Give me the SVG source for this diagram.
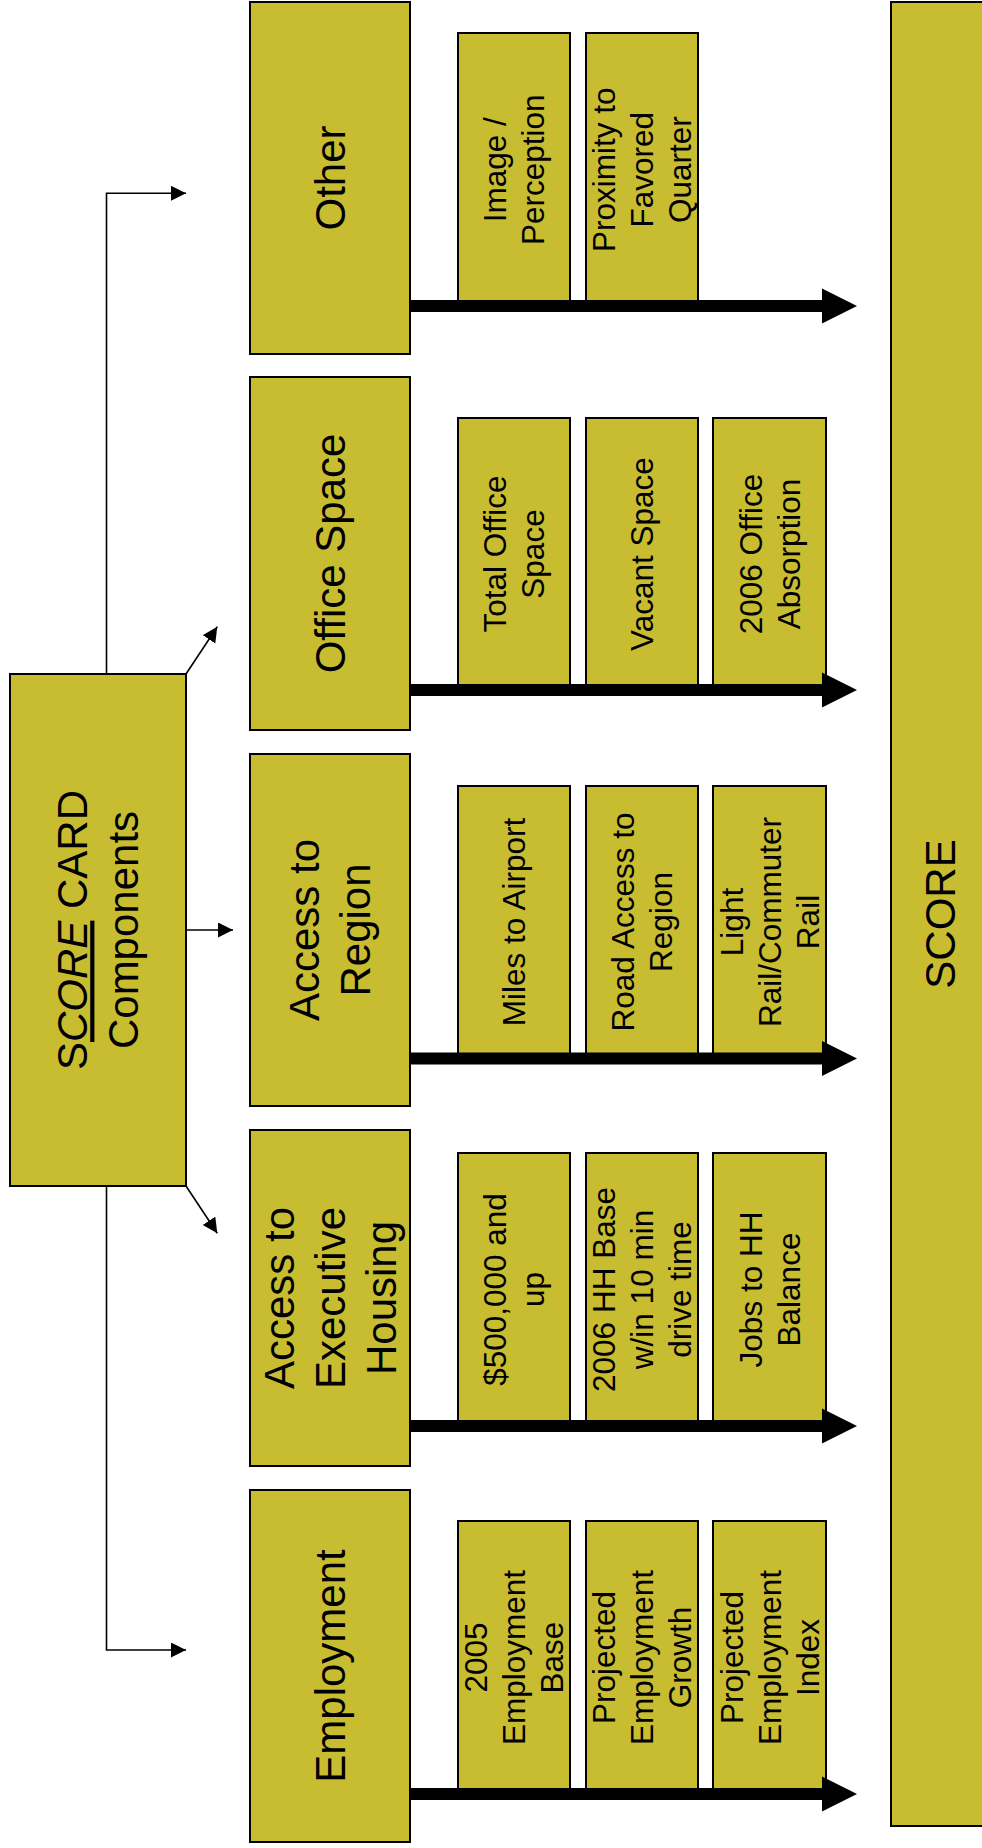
<svg xmlns="http://www.w3.org/2000/svg" width="982" height="1848" viewBox="0 0 982 1848">
<style>
.box{fill:#C8BD30;stroke:#000;stroke-width:2}
.t{font-family:"Liberation Sans",Arial,sans-serif;font-size:42px;fill:#000;text-anchor:middle}
.s{font-family:"Liberation Sans",Arial,sans-serif;font-size:31.5px;fill:#000;text-anchor:middle}
.thin{fill:none;stroke:#000;stroke-width:1.6}
.big{fill:#000}
</style>
<defs>
<marker id="ah" markerUnits="userSpaceOnUse" markerWidth="16" markerHeight="16" refX="15" refY="7.5" orient="auto">
<path d="M0,0 L15,7.5 L0,15 z" fill="#000"/>
</marker>
</defs>
<rect width="982" height="1848" fill="#fff"/>

<g id="score">
<rect class="box" x="891" y="2" width="100" height="1824"/>
<text class="t" font-size="43" transform="translate(940,914) rotate(-90)"><tspan x="0" dy="15">SCORE</tspan></text>
</g>

<g id="scorecard">
<rect class="box" x="10" y="674" width="176" height="512"/>
<text class="t" transform="translate(98,930) rotate(-90)"><tspan x="0" dy="-10.8">S<tspan font-style="italic" text-decoration="underline">CORE</tspan> CARD</tspan><tspan x="0" dy="51">Components</tspan></text>
</g>

<g id="connectors">
<path class="thin" d="M106.5,674 V193.3 H186" marker-end="url(#ah)"/>
<path class="thin" d="M186,674 L217.3,626.8" marker-end="url(#ah)"/>
<path class="thin" d="M186,930 H233" marker-end="url(#ah)"/>
<path class="thin" d="M186,1186 L217.3,1233.3" marker-end="url(#ah)"/>
<path class="thin" d="M106.5,1186 V1650 H186" marker-end="url(#ah)"/>
</g>

<g id="other">
<rect class="box" x="250" y="2" width="160" height="352"/>
<text class="t" transform="translate(330,178) rotate(-90)"><tspan x="0" dy="14.7">Other</tspan></text>
<rect class="box" x="458" y="33" width="112" height="273"/>
<text class="s" transform="translate(514,169.7) rotate(-90)"><tspan x="0" dy="-8">Image /</tspan><tspan x="0" dy="38">Perception</tspan></text>
<rect class="box" x="586" y="33" width="112" height="273"/>
<text class="s" transform="translate(642,169.7) rotate(-90)"><tspan x="0" dy="-27">Proximity to</tspan><tspan x="0" dy="38">Favored</tspan><tspan x="0" dy="38">Quarter</tspan></text>
<path class="big" d="M410,300 H822 V288.5 L857,306 L822,323.5 V312 H410 z"/>
</g>

<g id="office">
<rect class="box" x="250" y="377" width="160" height="353"/>
<text class="t" transform="translate(330,553.5) rotate(-90)"><tspan x="0" dy="14.7">Office Space</tspan></text>
<rect class="box" x="458" y="418" width="112" height="272"/>
<text class="s" transform="translate(514,554) rotate(-90)"><tspan x="0" dy="-8">Total Office</tspan><tspan x="0" dy="38">Space</tspan></text>
<rect class="box" x="586" y="418" width="112" height="272"/>
<text class="s" transform="translate(642,554) rotate(-90)"><tspan x="0" dy="11">Vacant Space</tspan></text>
<rect class="box" x="713" y="418" width="113" height="272"/>
<text class="s" transform="translate(770,554) rotate(-90)"><tspan x="0" dy="-8">2006 Office</tspan><tspan x="0" dy="38">Absorption</tspan></text>
<path class="big" d="M410,684 H822 V672.5 L857,690 L822,707.5 V696 H410 z"/>
</g>

<g id="region">
<rect class="box" x="250" y="754" width="160" height="352"/>
<text class="t" transform="translate(330,930) rotate(-90)"><tspan x="0" dy="-10.8">Access to</tspan><tspan x="0" dy="51">Region</tspan></text>
<rect class="box" x="458" y="786" width="112" height="272.5"/>
<text class="s" transform="translate(514,922) rotate(-90)"><tspan x="0" dy="11">Miles to Airport</tspan></text>
<rect class="box" x="586" y="786" width="112" height="272.5"/>
<text class="s" transform="translate(642,922) rotate(-90)"><tspan x="0" dy="-8">Road Access to</tspan><tspan x="0" dy="38">Region</tspan></text>
<rect class="box" x="713" y="786" width="113" height="272.5"/>
<text class="s" transform="translate(770,922) rotate(-90)"><tspan x="0" dy="-27">Light</tspan><tspan x="0" dy="38">Rail/Commuter</tspan><tspan x="0" dy="38">Rail</tspan></text>
<path class="big" d="M410,1052.5 H822 V1041 L857,1058.5 L822,1076 V1064.5 H410 z"/>
</g>

<g id="housing">
<rect class="box" x="250" y="1130" width="160" height="336"/>
<text class="t" transform="translate(330,1298) rotate(-90)"><tspan x="0" dy="-36.3">Access to</tspan><tspan x="0" dy="51">Executive</tspan><tspan x="0" dy="51">Housing</tspan></text>
<rect class="box" x="458" y="1153" width="112" height="273"/>
<text class="s" transform="translate(514,1289.5) rotate(-90)"><tspan x="0" dy="-8">$500,000 and</tspan><tspan x="0" dy="38">up</tspan></text>
<rect class="box" x="586" y="1153" width="112" height="273"/>
<text class="s" transform="translate(642,1289.5) rotate(-90)"><tspan x="0" dy="-27">2006 HH Base</tspan><tspan x="0" dy="38">w/in 10 min</tspan><tspan x="0" dy="38">drive time</tspan></text>
<rect class="box" x="713" y="1153" width="113" height="273"/>
<text class="s" transform="translate(770,1289.5) rotate(-90)"><tspan x="0" dy="-8">Jobs to HH</tspan><tspan x="0" dy="38">Balance</tspan></text>
<path class="big" d="M410,1420 H822 V1408.5 L857,1426 L822,1443.5 V1432 H410 z"/>
</g>

<g id="employment">
<rect class="box" x="250" y="1490" width="160" height="352"/>
<text class="t" transform="translate(330,1666) rotate(-90)"><tspan x="0" dy="14.7">Employment</tspan></text>
<rect class="box" x="458" y="1521" width="112" height="273"/>
<text class="s" transform="translate(514,1657.5) rotate(-90)"><tspan x="0" dy="-27">2005</tspan><tspan x="0" dy="38">Employment</tspan><tspan x="0" dy="38">Base</tspan></text>
<rect class="box" x="586" y="1521" width="112" height="273"/>
<text class="s" transform="translate(642,1657.5) rotate(-90)"><tspan x="0" dy="-27">Projected</tspan><tspan x="0" dy="38">Employment</tspan><tspan x="0" dy="38">Growth</tspan></text>
<rect class="box" x="713" y="1521" width="113" height="273"/>
<text class="s" transform="translate(770,1657.5) rotate(-90)"><tspan x="0" dy="-27">Projected</tspan><tspan x="0" dy="38">Employment</tspan><tspan x="0" dy="38">Index</tspan></text>
<path class="big" d="M410,1788 H822 V1776.5 L857,1794 L822,1811.5 V1800 H410 z"/>
</g>
</svg>
